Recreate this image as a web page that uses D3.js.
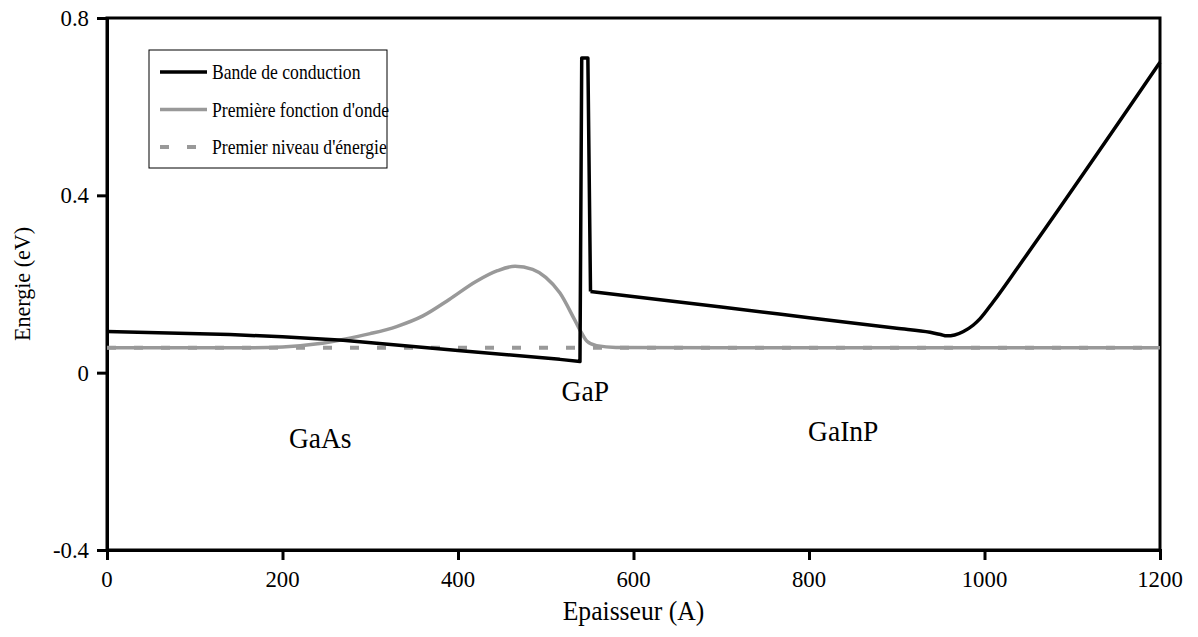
<!DOCTYPE html>
<html><head><meta charset="utf-8">
<script src="https://cdn.jsdelivr.net/npm/d3@7"></script>
<style>body{margin:0;background:#fff}svg{display:block}text{font-family:"Liberation Serif","Times New Roman",serif;fill:#000}</style>
</head><body><svg id="c" width="1198" height="637"></svg>
<script>
// Data
const xTicks = [0, 200, 400, 600, 800, 1000, 1200];
const yTicks = [-0.4, 0, 0.4, 0.8];
const yTickLabels = ["-0.4", "0", "0.4", "0.8"];
const bandX = [0, 140, 200, 269, 400, 516, 539, 541, 548, 551, 700, 800, 900, 938, 950, 957, 966, 976, 987, 995, 1010, 1040, 1200];
const bandY = [0.093, 0.086, 0.081, 0.073, 0.050, 0.030, 0.025, 0.71, 0.71, 0.183, 0.148, 0.124, 0.100, 0.091, 0.086, 0.083, 0.085, 0.093, 0.107, 0.122, 0.160, 0.243, 0.70];
const waveX = [0, 150, 200, 240, 269, 300, 330, 360, 390, 420, 445, 465, 485, 500, 516, 533, 541, 547, 558, 580, 700, 1200];
const waveY = [0.056, 0.056, 0.058, 0.065, 0.075, 0.088, 0.104, 0.128, 0.165, 0.205, 0.230, 0.240, 0.233, 0.215, 0.180, 0.119, 0.089, 0.071, 0.061, 0.057, 0.056, 0.056];
const levelX = [0, 1200];
const levelY = [0.056, 0.056];
const seriesNames = ["Bande de conduction", "Première fonction d'onde", "Premier niveau d'énergie"];
const regionLabels = [{t: "GaAs", x: 243, y: -0.17}, {t: "GaP", x: 545, y: -0.063}, {t: "GaInP", x: 839, y: -0.155}];

const svg = d3.select("#c");
const L = 107, R = 1160, T = 18, B = 550;
const x = d3.scaleLinear().domain([0, 1200]).range([L, R]);
const y = d3.scaleLinear().domain([-0.4, 0.8]).range([B, T]);
const grey = "#999999";

// place a text with a font size and horizontal scale
function txt(g, px, py, s, anchor, fs, sx, rot) {
  return g.append("text")
    .attr("transform", `translate(${px},${py})${rot ? " rotate(" + rot + ")" : ""} scale(${sx},1)`)
    .attr("text-anchor", anchor || "start").attr("font-size", fs).text(s);
}

// frame
svg.append("rect").attr("x", L).attr("y", T).attr("width", R - L).attr("height", B - T)
  .attr("fill", "none").attr("stroke", "#000").attr("stroke-width", 3);

// axes
const yAxis = d3.axisLeft(y).tickValues(yTicks).tickSize(10).tickFormat(() => "");
const gy = svg.append("g").attr("transform", `translate(${L},0)`).call(yAxis);
gy.select(".domain").attr("stroke-width", 3);
gy.selectAll(".tick line").attr("stroke-width", 3);
yTicks.forEach((v, i) => txt(svg, L - 18, y(v) + 8, yTickLabels[i], "end", 24, 0.95));

const xAxis = d3.axisBottom(x).tickValues(xTicks).tickSize(10).tickFormat(() => "");
const gx = svg.append("g").attr("transform", `translate(0,${B})`).call(xAxis);
gx.select(".domain").attr("stroke-width", 3);
gx.selectAll(".tick line").attr("stroke-width", 3);
xTicks.forEach(v => txt(svg, x(v), 587, d3.format("d")(v), "middle", 24, 0.95));

// axis titles
txt(svg, (L + R) / 2, 620, "Epaisseur (A)", "middle", 27, 0.95);
txt(svg, 30, (T + B) / 2, "Energie (eV)", "middle", 24, 0.92, -90);

// series
const lineLin = d3.line().x(d => x(d[0])).y(d => y(d[1]));
const lineSmooth = d3.line().x(d => x(d[0])).y(d => y(d[1])).curve(d3.curveMonotoneX);
const band = bandX.map((v, i) => [v, bandY[i]]);
const split = bandX.indexOf(551);

svg.append("path").datum(levelX.map((v, i) => [v, levelY[i]])).attr("d", lineLin)
  .attr("fill", "none").attr("stroke", grey).attr("stroke-width", 4).attr("stroke-dasharray", "9,18");
svg.append("path").datum(waveX.map((v, i) => [v, waveY[i]])).attr("d", lineSmooth)
  .attr("fill", "none").attr("stroke", grey).attr("stroke-width", 3.5).attr("stroke-linejoin", "round");
svg.append("path").datum(band.slice(0, split + 1)).attr("d", lineLin)
  .attr("fill", "none").attr("stroke", "#000").attr("stroke-width", 3.5).attr("stroke-linejoin", "round");
svg.append("path").datum(band.slice(split)).attr("d", lineSmooth)
  .attr("fill", "none").attr("stroke", "#000").attr("stroke-width", 3.5).attr("stroke-linejoin", "round");

// region labels
regionLabels.forEach(r => txt(svg, x(r.x), y(r.y), r.t, "middle", 29, 0.95));

// legend
const lg = svg.append("g");
lg.append("rect").attr("x", 149).attr("y", 50).attr("width", 238).attr("height", 118)
  .attr("fill", "#fff").attr("stroke", "#000").attr("stroke-width", 1);
const styles = [{c: "#000", w: 3.5, d: null}, {c: grey, w: 3.5, d: null}, {c: grey, w: 4, d: "9,18"}];
seriesNames.forEach((n, i) => {
  const yy = 72 + i * 37.5;
  lg.append("line").attr("x1", 160).attr("x2", 207).attr("y1", yy).attr("y2", yy)
    .attr("stroke", styles[i].c).attr("stroke-width", styles[i].w).attr("stroke-dasharray", styles[i].d);
  txt(lg, 212, yy + 7, n, "start", 22, 0.8);
});
</script></body></html>
